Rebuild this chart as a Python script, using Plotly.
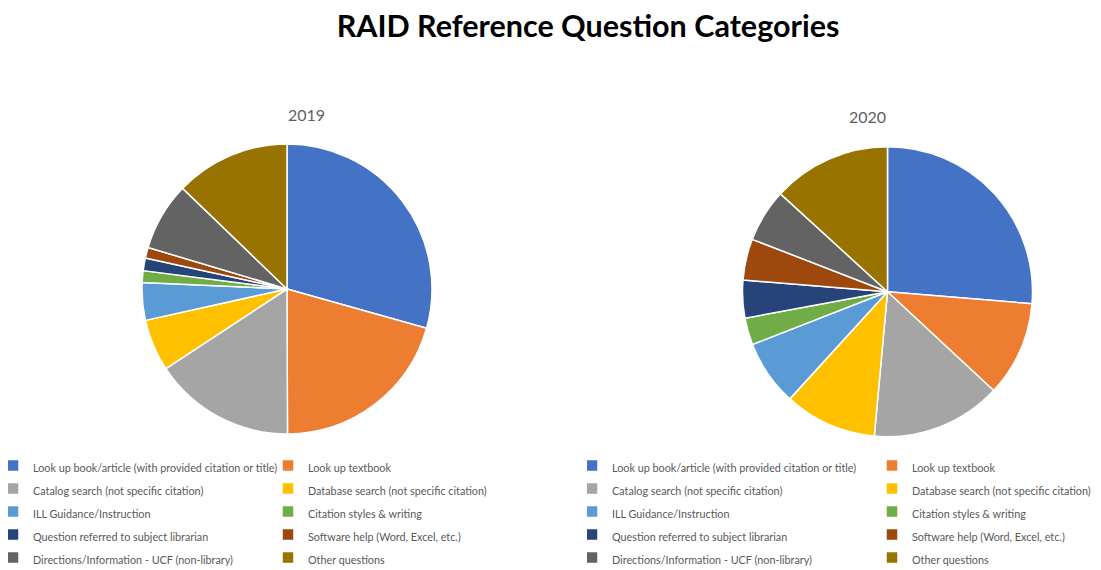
import plotly.graph_objects as go

# categories in legend order (also slice order, clockwise from 12 o'clock)
categories = [
    'Look up book/article (with provided citation or title)',
    'Look up textbook',
    'Catalog search (not specific citation)',
    'Database search (not specific citation)',
    'ILL Guidance/Instruction',
    'Citation styles & writing',
    'Question referred to subject librarian',
    'Software help (Word, Excel, etc.)',
    'Directions/Information - UCF (non-library)',
    'Other questions',
]

# share of questions (%)
share_2019 = [29.4, 20.6, 15.8, 5.8, 4.2, 1.3, 1.4, 1.2, 7.6, 12.8]
share_2020 = [26.3, 10.6, 14.5, 10.3, 7.3, 3.0, 4.2, 4.6, 5.9, 13.2]

years = ['2019', '2020']

colors = ['#4472C4', '#ED7D31', '#A5A5A5', '#FFC000', '#5B9BD5',
          '#70AD47', '#264478', '#9E480E', '#636363', '#997300']

# the page body adds an 8px margin, so the figure is 8px smaller than the window
# and every position below is given in window pixels minus that offset
OFF = 8
W, H = 1101 - OFF, 570 - OFF
ml, mr = 142 - OFF, 67
gw = W - ml - mr
FONT = 'Lato, Open Sans, sans-serif'


def px_x(x):
    return (x - OFF - ml) / gw


def px_y(y):
    return 1 - (y - OFF) / H


def pie_domain(cx, cy, r):
    return dict(x=[max(0, px_x(cx - r)), min(1, px_x(cx + r))],
                y=[px_y(cy + r), px_y(cy - r)])


# small legend text; the legend font itself stays larger so rows are spaced like the original
legend_labels = ['<span style="font-size:10.8px">%s</span>' % c for c in categories]

fig = go.Figure()

pies = [(share_2019, (287, 289), 'legend'), (share_2020, (887.5, 291.7), 'legend2')]
for year, (values, (cx, cy), legend_id) in zip(years, pies):
    fig.add_trace(go.Pie(labels=legend_labels, values=values, name=year,
                         sort=False, direction='clockwise', rotation=0,
                         textinfo='none',
                         marker=dict(colors=colors, line=dict(color='white', width=1.5)),
                         domain=pie_domain(cx, cy, 145),
                         legend=legend_id, legendgroup=year,
                         hovertemplate='%{label}<br>%{percent}<extra>' + year + '</extra>'))

legend_common = dict(orientation='h', indentation=-15, xanchor='left', yanchor='top',
                     traceorder='normal', bgcolor='rgba(0,0,0,0)', entrywidthmode='pixels',
                     font=dict(family=FONT, size=15.4, color='#595959'))

fig.update_layout(
    width=W, height=H,
    paper_bgcolor='white', plot_bgcolor='white',
    margin=dict(l=ml, r=mr, t=0, b=0, autoexpand=False),
    title=dict(text='RAID Reference Question Categories',
               x=(588 - OFF) / W, y=1 - (26.5 - OFF) / H, xref='container', yref='container',
               xanchor='center', yanchor='middle',
               font=dict(family=FONT, size=30.5, color='black', weight='bold')),
    legend=dict(legend_common, x=px_x(OFF), y=px_y(449), entrywidth=245),
    legend2=dict(legend_common, x=px_x(587), y=px_y(449), entrywidth=270),
    annotations=[
        dict(text=years[0], x=px_x(286), y=px_y(103), xref='paper', yref='paper',
             showarrow=False, font=dict(family=FONT, size=16, color='#606060')),
        dict(text=years[1], x=px_x(888), y=px_y(105), xref='paper', yref='paper',
             showarrow=False, font=dict(family=FONT, size=16, color='#606060')),
    ],
)

fig.write_html("out.html")
